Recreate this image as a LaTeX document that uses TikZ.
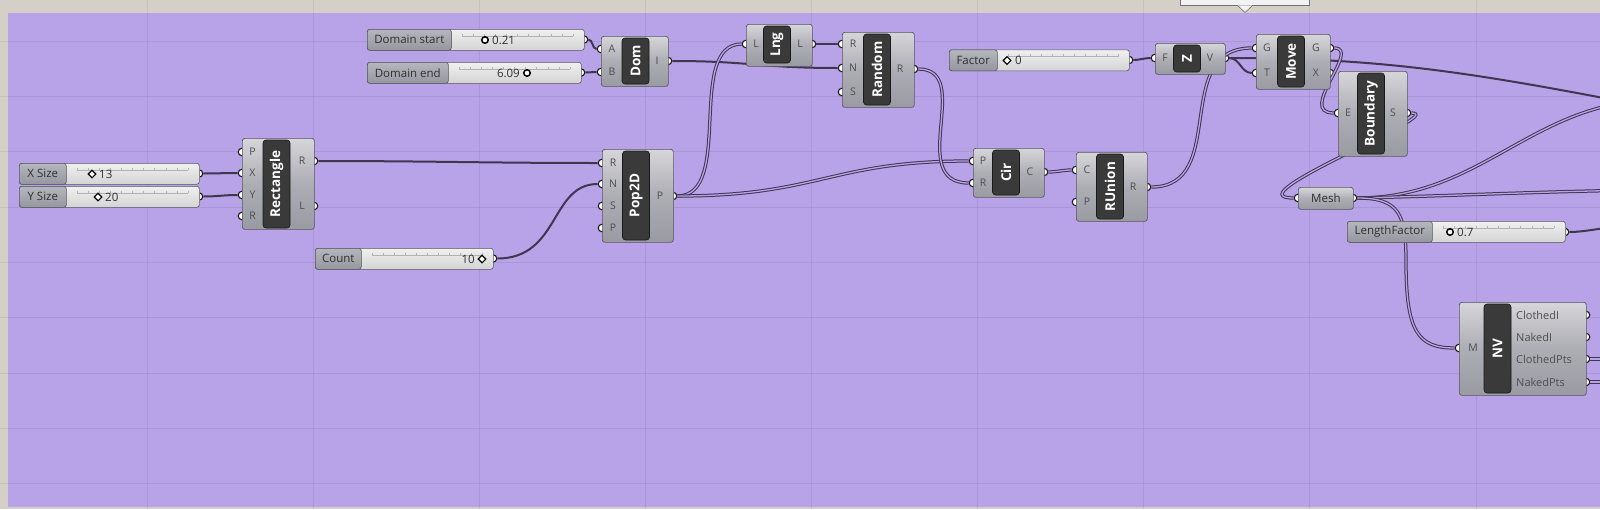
\documentclass[tikz,border=0pt]{standalone}
\usepackage{fontspec}
\setmainfont{Open Sans}
\usepackage{tikz}
\usetikzlibrary{shapes.geometric}

\definecolor{canvas}{HTML}{B8A3E8}
\definecolor{frame}{HTML}{D4D0C8}
\definecolor{wirecol}{HTML}{40364F}
\definecolor{comptop}{HTML}{D6D6DA}
\definecolor{compmid}{HTML}{ADADB4}
\definecolor{compbot}{HTML}{9A9AA2}
\definecolor{compline}{HTML}{56565E}
\definecolor{stripfill}{HTML}{3A3A3A}
\definecolor{slidertop}{HTML}{F0F0F0}
\definecolor{sliderbot}{HTML}{D4D4D4}
\definecolor{labtop}{HTML}{B6B6BE}
\definecolor{labbot}{HTML}{96969E}
\definecolor{textgrey}{HTML}{303030}
\definecolor{tipfill}{HTML}{F2F2F2}

\begin{document}
\begin{tikzpicture}[x=1pt, y=-1pt,
	comp/.style={draw=compline, line width=0.7pt, rounded corners=2.5pt, top color=comptop, bottom color=compbot, middle color=compmid, anchor=north west, inner sep=0pt},
	strip/.style={draw=black!90, line width=0.6pt, rounded corners=3pt, fill=stripfill, rotate=90, text=white, font=\fontsize{13.5}{15}\selectfont\bfseries, inner sep=0pt, minimum height=27pt},
	port/.style={circle, draw=black!90, fill=white, line width=1.1pt, minimum size=7.5pt, inner sep=0pt},
	portlab/.style={font=\fontsize{10.5}{12}\selectfont, text=textgrey!85, inner sep=0pt},
	wire/.style={draw=wirecol, line width=2pt},
	listwire/.style={draw=wirecol, line width=1pt, double=canvas, double distance=1.3pt},
	sbody/.style={draw=compline, line width=0.6pt, rounded corners=2.5pt, top color=slidertop, bottom color=sliderbot, anchor=north west, minimum height=21pt, inner sep=0pt},
	slabel/.style={draw=compline, line width=0.6pt, rounded corners=2.5pt, top color=labtop, bottom color=labbot, anchor=north west, minimum height=21pt, inner sep=0pt, font=\fontsize{11.5}{13}\selectfont, text=textgrey},
	track/.style={draw=black!30, line width=0.5pt},
	knobround/.style={circle, draw=black, fill=white, line width=1.5pt, minimum size=6.5pt, inner sep=0pt},
	knobdiamond/.style={diamond, draw=black, fill=white, line width=1.1pt, minimum size=8pt, inner sep=0pt},
	sval/.style={font=\fontsize{11.5}{13}\selectfont, text=textgrey, inner sep=0pt},
	gridline/.style={draw=black, opacity=0.07, line width=0.6pt},
	tip/.style={draw=black!55, fill=tipfill, line width=0.6pt, inner sep=0pt}
	]
	
	\useasboundingbox (0,0) rectangle (1600,509);
	\clip (0,0) rectangle (1600,509);
	
	% Canvas
	\fill[frame] (0,0) rectangle (1600,509);
	\fill[canvas] (8,12.7) rectangle (1600,507);
	\foreach \gx in {0,...,8} \draw[gridline] ({147+\gx*166.1},0) -- ++(0,509);
	\foreach \gy in {0,...,8} \draw[gridline] (0,{41+\gy*55.3}) -- ++(1600,0);
	
	% Ports (drawn first, bodies cover their inner half)
	\node[port] (xsize-o) at (199,173.5) {};
	\node[port] (ysize-o) at (199,196.5) {};
	\node[port] (domstart-o) at (584,39.5) {};
	\node[port] (domend-o) at (581,72.5) {};
	\node[port] (count-o) at (493,258.5) {};
	\node[port] (factor-o) at (1129,60) {};
	\node[port] (lenfac-o) at (1565,232) {};
	\foreach \n/\y in {P/152,X/173,Y/195,R/216} \node[port] (rect-i\n) at (242,\y) {};
	\foreach \n/\y in {R/161,L/206} \node[port] (rect-o\n) at (314,\y) {};
	\foreach \n/\y in {A/49,B/72} \node[port] (dom-i\n) at (601,\y) {};
	\node[port] (dom-oI) at (668,61) {};
	\foreach \n/\y in {R/163,N/184,S/206,P/228} \node[port] (pop-i\n) at (602,\y) {};
	\node[port] (pop-oP) at (673,196) {};
	\node[port] (lng-iL) at (746,44) {};
	\node[port] (lng-oL) at (812,44) {};
	\foreach \n/\y in {R/44,N/68,S/92} \node[port] (rand-i\n) at (842,\y) {};
	\node[port] (rand-oR) at (914,69) {};
	\foreach \n/\y in {P/161,R/183} \node[port] (cir-i\n) at (973,\y) {};
	\node[port] (cir-oC) at (1044,172) {};
	\foreach \n/\y in {C/170,P/202} \node[port] (run-i\n) at (1076,\y) {};
	\node[port] (run-oR) at (1147,187) {};
	\node[port] (z-iF) at (1155,58) {};
	\node[port] (z-oV) at (1225,58) {};
	\foreach \n/\y in {G/48,T/73} \node[port] (move-i\n) at (1256,\y) {};
	\foreach \n/\y in {G/48,X/73} \node[port] (move-o\n) at (1330,\y) {};
	\node[port] (bound-iE) at (1338,113) {};
	\node[port] (bound-oS) at (1407,113) {};
	\node[port] (mesh-i) at (1298,198) {};
	\node[port] (mesh-o) at (1353,198) {};
	\node[port] (nv-iM) at (1459,348) {};
	\foreach \n/\y in {ClothedI/315,NakedI/337,ClothedPts/359,NakedPts/382} \node[port] (nv-o\n) at (1586,\y) {};
	
	% Off-canvas ends
	\coordinate (voff) at (1640,105);
	\coordinate (meshup) at (1650,100);
	\coordinate (meshright) at (1650,190);
	\coordinate (lfoff) at (1650,224);
	\coordinate (cpoff) at (1640,359);
	\coordinate (npoff) at (1640,382);
	
	% Wires
	\draw[wire] (xsize-o.east) to[out=0,in=180] (rect-iX.west);
	\draw[wire] (ysize-o.east) to[out=0,in=180] (rect-iY.west);
	\draw[wire] (rect-oR.east) to[out=0,in=180] (pop-iR.west);
	\draw[wire] (count-o.east) .. controls (560,258.5) and (550,184) .. (pop-iN.west);
	\draw[wire] (domstart-o.east) to[out=0,in=180] (dom-iA.west);
	\draw[wire] (domend-o.east) to[out=0,in=180] (dom-iB.west);
	\draw[wire] (dom-oI.east) .. controls (750,61) and (760,68) .. (rand-iN.west);
	\draw[listwire] (pop-oP.east) .. controls (735,196) and (685,44) .. (lng-iL.west);
	\draw[listwire] (pop-oP.east) .. controls (820,196) and (830,161) .. (cir-iP.west);
	\draw[wire] (lng-oL.east) -- (rand-iR.west);
	\draw[listwire] (rand-oR.east) .. controls (975,69) and (905,183) .. (cir-iR.west);
	\draw[listwire] (cir-oC.east) to[out=0,in=180] (run-iC.west);
	\draw[listwire] (run-oR.east) .. controls (1230,187) and (1170,48) .. (move-iG.west);
	\draw[wire] (factor-o.east) to[out=0,in=180] (z-iF.west);
	\draw[wire] (z-oV.east) to[out=0,in=180] (move-iT.west);
	\draw[wire] (z-oV.east) .. controls (1380,58) and (1470,72) .. (voff);
	\draw[listwire] (move-oG.east) .. controls (1362,48) and (1296,113) .. (bound-iE.west);
	\draw[listwire] (bound-oS.east) .. controls (1450,113) and (1230,198) .. (mesh-i.west);
	\draw[listwire] (mesh-o.east) .. controls (1480,198) and (1530,105) .. (meshup);
	\draw[listwire] (mesh-o.east) .. controls (1450,196) and (1550,191) .. (meshright);
	\draw[listwire] (mesh-o.east) .. controls (1400,198) and (1406,215) .. (1406,262) .. controls (1406,332) and (1418,348) .. (nv-iM.west);
	\draw[wire] (lenfac-o.east) .. controls (1590,232) and (1610,225) .. (lfoff);
	\draw[listwire] (nv-oClothedPts.east) -- (cpoff);
	\draw[listwire] (nv-oNakedPts.east) -- (npoff);
	
	% Sliders
	\node[sbody, minimum width=180pt] (xsize) at (19,163) {};
	\node[slabel, minimum width=47pt] (xsize-l) at (19,163) {X Size};
	\draw[track] (77,170) -- (188,170) \foreach \k in {0,...,10} {({77+\k*11.1},170) -- ++(0,-2.5)};
	\node[knobdiamond] (xsize-k) at (92,174) {};
	\node[sval, anchor=west] (xsize-v) at (99,174) {13};
	
	\node[sbody, minimum width=180pt] (ysize) at (19,186) {};
	\node[slabel, minimum width=47pt] (ysize-l) at (19,186) {Y Size};
	\draw[track] (77,193) -- (188,193) \foreach \k in {0,...,10} {({77+\k*11.1},193) -- ++(0,-2.5)};
	\node[knobdiamond] (ysize-k) at (98,197) {};
	\node[sval, anchor=west] (ysize-v) at (105,197) {20};
	
	\node[sbody, minimum width=217pt] (domstart) at (367,29) {};
	\node[slabel, minimum width=84pt] (domstart-l) at (367,29) {Domain start};
	\draw[track] (462,36) -- (573,36) \foreach \k in {0,...,10} {({462+\k*11.1},36) -- ++(0,-2.5)};
	\node[knobround] (domstart-k) at (485,40) {};
	\node[sval, anchor=west] (domstart-v) at (492,40) {0.21};
	
	\node[sbody, minimum width=214pt] (domend) at (367,62) {};
	\node[slabel, minimum width=81pt] (domend-l) at (367,62) {Domain end};
	\draw[track] (459,69) -- (570,69) \foreach \k in {0,...,10} {({459+\k*11.1},69) -- ++(0,-2.5)};
	\node[knobround] (domend-k) at (527,73) {};
	\node[sval, anchor=east] (domend-v) at (520,73) {6.09};
	
	\node[sbody, minimum width=178pt] (count) at (315,248) {};
	\node[slabel, minimum width=46pt] (count-l) at (315,248) {Count};
	\draw[track] (372,255) -- (482,255) \foreach \k in {0,...,10} {({372+\k*11},255) -- ++(0,-2.5)};
	\node[knobdiamond] (count-k) at (482,259) {};
	\node[sval, anchor=east] (count-v) at (475,259) {10};
	
	\node[sbody, minimum width=180pt] (factor) at (949,49.5) {};
	\node[slabel, minimum width=48pt] (factor-l) at (949,49.5) {Factor};
	\draw[track] (1008,56.5) -- (1118,56.5) \foreach \k in {0,...,10} {({1008+\k*11},56.5) -- ++(0,-2.5)};
	\node[knobdiamond] (factor-k) at (1007,60.5) {};
	\node[sval, anchor=west] (factor-v) at (1015,60.5) {0};
	
	\node[sbody, minimum width=218pt] (lenfac) at (1347,221) {};
	\node[slabel, minimum width=85pt] (lenfac-l) at (1347,221) {LengthFactor};
	\draw[track] (1443,228) -- (1554,228) \foreach \k in {0,...,10} {({1443+\k*11.1},228) -- ++(0,-2.5)};
	\node[knobround] (lenfac-k) at (1450,232) {};
	\node[sval, anchor=west] (lenfac-v) at (1457,232) {0.7};
	
	% Rectangle
	\node[comp, minimum width=72pt, minimum height=91pt] (rect) at (242,138) {};
	\node[strip, minimum width=88pt] (rect-t) at (276.5,184) {Rectangle};
	\foreach \n/\y in {P/152,X/173,Y/195,R/216} \node[portlab] (rect-l\n) at (252.5,\y) {\n};
	\foreach \n/\y in {R/161,L/206} \node[portlab] (rect-m\n) at (302,\y) {\n};
	
	% Dom
	\node[comp, minimum width=67pt, minimum height=50pt] (dom) at (601,36) {};
	\node[strip, minimum width=46pt] (dom-t) at (635.5,61) {Dom};
	\foreach \n/\y in {A/49,B/72} \node[portlab] (dom-l\n) at (612,\y) {\n};
	\node[portlab] (dom-mI) at (657,61) {I};
	
	% Pop2D
	\node[comp, minimum width=71pt, minimum height=93pt] (pop) at (602,149) {};
	\node[strip, minimum width=89pt] (pop-t) at (636,195.5) {Pop2D};
	\foreach \n/\y in {R/163,N/184,S/206,P/228} \node[portlab] (pop-l\n) at (613,\y) {\n};
	\node[portlab] (pop-mP) at (660,196) {P};
	
	% Lng
	\node[comp, minimum width=66pt, minimum height=42pt] (lng) at (746,24) {};
	\node[strip, minimum width=37pt] (lng-t) at (777,44.5) {Lng};
	\node[portlab] (lng-lL) at (756,44) {L};
	\node[portlab] (lng-mL) at (800,44) {L};
	
	% Random
	\node[comp, minimum width=72pt, minimum height=75pt] (rand) at (842,32) {};
	\node[strip, minimum width=71pt] (rand-t) at (877,69.5) {Random};
	\foreach \n/\y in {R/44,N/68,S/92} \node[portlab] (rand-l\n) at (853,\y) {\n};
	\node[portlab] (rand-mR) at (900,69) {R};
	
	% Cir
	\node[comp, minimum width=71pt, minimum height=49pt] (cir) at (973,148) {};
	\node[strip, minimum width=45pt] (cir-t) at (1006,172.5) {Cir};
	\foreach \n/\y in {P/161,R/183} \node[portlab] (cir-l\n) at (983,\y) {\n};
	\node[portlab] (cir-mC) at (1030,172) {C};
	
	% RUnion
	\node[comp, minimum width=71pt, minimum height=69pt] (run) at (1076,152) {};
	\node[strip, minimum width=65pt] (run-t) at (1110,186.5) {RUnion};
	\foreach \n/\y in {C/170,P/202} \node[portlab] (run-l\n) at (1087,\y) {\n};
	\node[portlab] (run-mR) at (1133,187) {R};
	
	% Z
	\node[comp, minimum width=70pt, minimum height=31pt] (z) at (1155,43) {};
	\node[strip, minimum width=27pt] (z-t) at (1187,58.5) {Z};
	\node[portlab] (z-lF) at (1165,58) {F};
	\node[portlab] (z-mV) at (1210,58) {V};
	
	% Move
	\node[comp, minimum width=74pt, minimum height=55pt] (move) at (1256,34) {};
	\node[strip, minimum width=51pt] (move-t) at (1291,61.5) {Move};
	\foreach \n/\y in {G/48,T/73} \node[portlab] (move-l\n) at (1267,\y) {\n};
	\foreach \n/\y in {G/48,X/73} \node[portlab] (move-m\n) at (1316,\y) {\n};
	
	% Boundary
	\node[comp, minimum width=69pt, minimum height=85pt] (bound) at (1338,71) {};
	\node[strip, minimum width=81pt] (bound-t) at (1371,113.5) {Boundary};
	\node[portlab] (bound-lE) at (1348,113) {E};
	\node[portlab] (bound-mS) at (1393,113) {S};
	
	% Mesh
	\node[comp, minimum width=55pt, minimum height=22pt, font=\fontsize{11.5}{13}\selectfont, text=textgrey] (mesh) at (1298,187) {Mesh};
	
	% NV
	\node[comp, minimum width=127pt, minimum height=93pt] (nv) at (1459,302) {};
	\node[strip, minimum width=89pt] (nv-t) at (1497.5,348.5) {NV};
	\node[portlab] (nv-lM) at (1473,348) {M};
	\foreach \n/\y in {ClothedI/315,NakedI/337,ClothedPts/359,NakedPts/382} \node[portlab, anchor=west, font=\fontsize{11}{13}\selectfont] (nv-m\n) at (1516,\y) {\n};
	
	% Tooltip
	\node[tip, anchor=south west, minimum width=129pt, minimum height=12pt] (tipbox) at (1180,6) {};
	\fill[tipfill] (1238,5.4) -- (1245,12.5) -- (1252,5.4) -- cycle;
	\draw[black!55, line width=0.6pt] (1238,6) -- (1245,12.5) -- (1252,6);
	
\end{tikzpicture}
\end{document}
